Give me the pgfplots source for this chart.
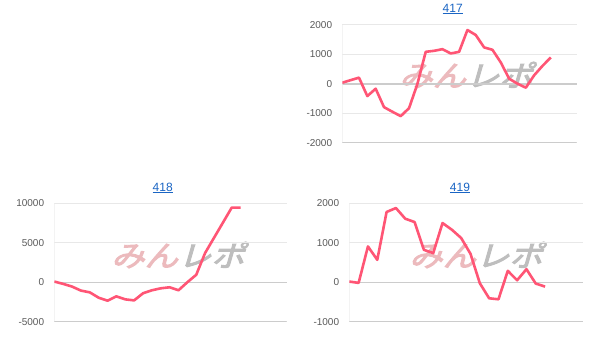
\documentclass[border=0pt]{standalone}
\usepackage{pgfplots}
\pgfplotsset{compat=1.18}
\usepackage{fontspec}
\setmainfont{Liberation Sans}
\newfontfamily\wmfont[FakeSlant=0.25, FakeBold=3]{Noto Sans CJK JP}
\definecolor{linec}{RGB}{255,85,117}
\definecolor{gridc}{RGB}{232,232,232}
\definecolor{zeroc}{RGB}{204,204,204}
\definecolor{leftc}{RGB}{238,238,238}
\definecolor{tickc}{RGB}{90,90,90}
\definecolor{titlec}{RGB}{26,101,196}
\definecolor{wmpink}{RGB}{236,186,189}
\definecolor{wmgray}{RGB}{190,190,190}
\pgfplotsset{
  myax/.style={
    scale only axis,
    axis line style={draw=none},
    major tick length=0pt,
    xtick=\empty,
    ymajorgrids,
    grid style={gridc, line width=1pt},
    extra y tick style={grid style={zeroc, line width=1.2pt}},
    extra y tick labels={},
    scaled y ticks=false,
    yticklabel style={font=\fontsize{10}{12}\selectfont, text=tickc, anchor=east, inner sep=0pt, xshift=-10pt},
    /pgf/number format/.cd, 1000 sep={}, assume math mode=true,
  },
  myline/.style={linec, line width=2.6pt, line join=round, no marks},
}
\newcommand{\wm}[2]{\node[font=\wmfont\fontsize{29}{29}\selectfont, xscale=1.15, inner sep=0pt] at (#1,#2) {\textcolor{wmpink}{みん}\textcolor{wmgray}{レポ}};}
\begin{document}
\begin{tikzpicture}[x=1pt,y=1pt]
\path[fill=white, use as bounding box] (0,0) rectangle (607,350);
\wm{466}{275}
\wm{178}{95}
\wm{476}{95}
% 417
\begin{axis}[myax, at={(342.3pt,207pt)}, anchor=south west, width=234.4pt, height=118pt,
  xmin=0, xmax=28.1, ymin=-2000, ymax=2000, ytick={-2000,-1000,0,1000,2000}, extra y ticks={0}]
\draw[leftc, line width=1pt] (rel axis cs:0,0) -- (rel axis cs:0,1);
\draw[zeroc, line width=1.2pt] (rel axis cs:0,0) -- (rel axis cs:1,0);
\addplot[myline] coordinates {(0,45) (1,130) (2,215) (3,-410) (4,-160) (5,-785) (6,-940) (7,-1090) (8,-820) (9,0) (10,1090) (11,1125) (12,1180) (13,1035) (14,1090) (15,1830) (16,1660) (17,1240) (18,1160) (19,730) (20,180) (21,10) (22,-125) (23,295) (24,615) (25,900)};
\end{axis}
% 418
\begin{axis}[myax, at={(54.3pt,28.3pt)}, anchor=south west, width=232.4pt, height=118.4pt,
  xmin=0, xmax=26.2, ymin=-5000, ymax=10000, ytick={-5000,0,5000,10000}, extra y ticks={0}]
\draw[leftc, line width=1pt] (rel axis cs:0,0) -- (rel axis cs:0,1);
\draw[zeroc, line width=1.2pt] (rel axis cs:0,0) -- (rel axis cs:1,0);
\addplot[myline] coordinates {(0,85) (1,-210) (2,-550) (3,-1060) (4,-1280) (5,-1960) (6,-2340) (7,-1790) (8,-2170) (9,-2300) (10,-1400) (11,-1020) (12,-770) (13,-640) (14,-1020) (15,0) (16,940) (17,3700) (18,5620) (19,7530) (20,9450) (21,9450)};
\end{axis}
% 419
\begin{axis}[myax, at={(349.3pt,28.3pt)}, anchor=south west, width=234pt, height=118.4pt,
  xmin=0, xmax=25.1, ymin=-1000, ymax=2000, ytick={-1000,0,1000,2000}, extra y ticks={0}]
\draw[leftc, line width=1pt] (rel axis cs:0,0) -- (rel axis cs:0,1);
\draw[zeroc, line width=1.2pt] (rel axis cs:0,0) -- (rel axis cs:1,0);
\addplot[myline] coordinates {(0,17) (1,-17) (2,907) (3,568) (4,1780) (5,1880) (6,1610) (7,1525) (8,822) (9,737) (10,1500) (11,1330) (12,1120) (13,720) (14,-25) (15,-407) (16,-432) (17,288) (18,50) (19,330) (20,-34) (21,-110)};
\end{axis}
\node[font=\fontsize{12}{14}\selectfont, text=titlec, inner sep=0pt] at (452.7,341) {\underline{417}};
\node[font=\fontsize{12}{14}\selectfont, text=titlec, inner sep=0pt] at (162.7,162) {\underline{418}};
\node[font=\fontsize{12}{14}\selectfont, text=titlec, inner sep=0pt] at (460,162) {\underline{419}};
\end{tikzpicture}
\end{document}
